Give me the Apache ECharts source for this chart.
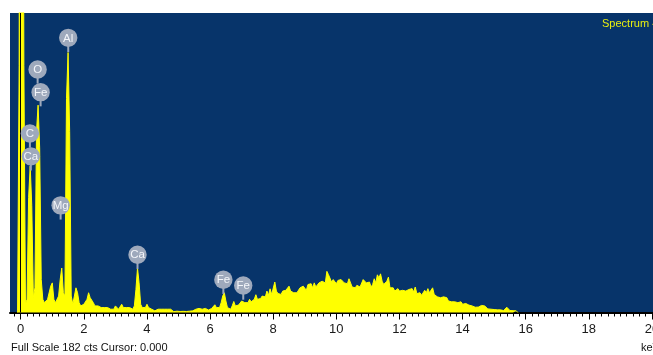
<!DOCTYPE html>
<html>
<head>
<meta charset="utf-8">
<script src="https://cdn.jsdelivr.net/npm/echarts@6/dist/echarts.min.js"></script>
<style>
html,body{margin:0;padding:0;background:#fff;}
#chart{width:653px;height:355px;}
</style>
</head>
<body>
<div id="chart"></div>
<script>
// EDS spectrum: counts per 0.05 keV channel, first channel at -0.10 keV
const energyStart = -0.10;
const channelWidth = 0.05;
const counts = [
  0, 150, 900, 900, 150, 5, 8, 70, 89, 65,            // -0.10 .. 0.35
  9, 15, 110, 126, 100, 20, 8, 6, 7, 8,               // 0.40 .. 0.85
  9, 16, 18, 8, 6, 7, 10, 20, 27, 12,                 // 0.90 .. 1.35
  10, 130, 158, 110, 10, 5, 6, 15, 12, 6,             // 1.40 .. 1.85
  4, 4, 5, 4, 8, 12, 9, 8, 6, 4,                      // 1.90 .. 2.35
  3, 4, 3, 3, 2, 3, 4, 3, 4, 2,                       // 2.40 .. 2.85
  3, 2, 4, 3, 2, 3, 5, 3, 2, 3,                       // 2.90 .. 3.35
  2, 3, 3, 2, 4, 14, 27, 18, 5, 3,                    // 3.40 .. 3.85
  2, 3, 5, 3, 4, 2, 2, 1, 2, 2,                       // 3.90 .. 4.35
  1, 2, 3, 2, 1, 2, 1, 2, 1, 0.5,                     // 4.40 .. 4.85
  0.5, 0.8, 0.4, 0.6, 0.5, 0.7, 0.4, 0.6, 0.5, 0.8,   // 4.90 .. 5.35
  0.6, 1, 1.5, 2, 1.5, 2.5, 1.5, 2, 1.5, 2.5,         // 5.40 .. 5.85
  2, 1.5, 2, 2.5, 2, 4.7, 3, 2.5, 3, 6,               // 5.90 .. 6.35
  10, 12, 7, 3, 2.5, 2, 4, 6.7, 4, 5,                 // 6.40 .. 6.85
  4.5, 5, 7, 8, 6, 7, 6, 8, 6.5, 7.5,                 // 6.90 .. 7.35
  8, 10.8, 8, 9, 8.5, 10, 11, 9.5, 13, 10.5,          // 7.40 .. 7.85
  14.4, 11, 12, 18.5, 13, 11.5, 12, 11, 13, 12,       // 7.90 .. 8.35
  13.5, 14, 16, 13, 14, 12, 13, 12, 12.5, 15,         // 8.40 .. 8.85
  14, 16, 15, 13.5, 17, 16, 17.5, 15, 18, 15.5,       // 8.90 .. 9.35
  16, 18, 17, 19, 20, 18, 25, 23, 22.5, 18.5,         // 9.40 .. 9.85
  20, 19, 17.5, 19.5, 20.5, 20, 19, 18, 18.5, 17.5,   // 9.90 .. 10.35
  20.5, 20, 15.5, 16, 15, 16.5, 17, 15.5, 16.5, 20,   // 10.40 .. 10.85
  19.5, 18, 17, 18.5, 15.5, 17, 20.5, 18, 22.9, 21,   // 10.90 .. 11.35
  23.5, 19, 17, 16, 19, 21.5, 15, 14, 15, 13,         // 11.40 .. 11.85
  12.5, 14.5, 13, 12, 13.5, 12.5, 13, 12, 14, 13,     // 11.90 .. 12.35
  14.5, 12.5, 15.5, 11.5, 11, 12, 10.5, 11, 13.5, 12, // 12.40 .. 12.85
  14.5, 12, 13, 15, 11, 10, 9.5, 10.5, 9, 10,         // 12.90 .. 13.35
  9.5, 8.5, 9, 7, 6, 6.5, 5.5, 6.5, 7.5, 6,           // 13.40 .. 13.85
  5.5, 6.5, 5, 4.5, 5.5, 6.3, 4.5, 5, 4, 3.5,         // 13.90 .. 14.35
  3.2, 3.8, 3.3, 3.5, 4.3, 3.2, 4, 2.8, 2.2, 2.5,     // 14.40 .. 14.85
  2, 2.3, 1.8, 1.5, 1.6, 1.3, 1.6, 1.4, 1.2, 1.5,     // 14.90 .. 15.35
  3.2, 2.5, 1.2, 1.3, 1.1, 1.2, 1, 0                  // 15.40 .. 15.75
];

const axisMin = -0.34;
const axisMax = 20.4;
const fullScale = 182;
const tickLabels = [0, 2, 4, 6, 8, 10, 12, 14, 16, 18, 20];
const minorTickStep = 0.2;
const cursorEnergy = 0;

// identified lines: tag text and where the tag sits (keV, counts)
const peakNames   = ['Al', 'O', 'Fe', 'C', 'Ca', 'Mg', 'Ca', 'Fe', 'Fe'];
const peakEnergy  = [1.505, 0.535, 0.63, 0.29, 0.32, 1.264, 3.70, 6.42, 7.05];
const peakTagAt   = [166.9, 147.7, 133.9, 108.8, 94.9, 65.1, 35.1, 19.9, 16.4];

const spectrumName = 'Spectrum 4';
const footer = 'Full Scale 182 cts Cursor: 0.000';
const unitName = 'keV';

const font = '"Liberation Sans", Arial, sans-serif';
const navy = '#07346a';
const tagColor = '#9ea9bc';

const spectrum = counts.map((c, i) => [energyStart + i * channelWidth, c]);
const minorTicks = [];
for (let k = -1; k <= 101; k++) minorTicks.push(Math.round(k * minorTickStep * 10) / 10);

const chart = echarts.init(document.getElementById('chart'), null, {renderer: 'canvas'});
chart.setOption({
  animation: false,
  backgroundColor: '#ffffff',
  grid: {
    left: 10, top: 13, width: 654.6, height: 299.5,
    show: true, backgroundColor: navy, borderWidth: 0,
    outerBoundsMode: 'none', containLabel: false
  },
  xAxis: [{
    type: 'value', min: axisMin, max: axisMax, position: 'bottom',
    axisLine: {show: true, onZero: false, lineStyle: {color: '#000', width: 2}},
    axisTick: {show: true, customValues: tickLabels, length: 7, lineStyle: {color: '#000', width: 1}},
    axisLabel: {customValues: tickLabels, margin: 10, fontSize: 13, color: '#1a1a1a', fontFamily: font},
    splitLine: {show: false}
  }, {
    type: 'value', min: axisMin, max: axisMax, position: 'bottom', offset: 0,
    axisLine: {show: false},
    axisTick: {show: true, customValues: minorTicks, length: 4, lineStyle: {color: '#000', width: 1}},
    axisLabel: {show: false},
    splitLine: {show: false}
  }],
  yAxis: {type: 'value', min: 0, max: fullScale, show: false},
  series: [{
    type: 'line',
    data: spectrum,
    xAxisIndex: 0,
    symbol: 'none',
    clip: true,
    lineStyle: {color: '#ffff00', width: 1},
    areaStyle: {color: '#ffff00', opacity: 1},
    markLine: {
      silent: true,
      symbol: ['none', 'none'],
      label: {show: false},
      lineStyle: {color: '#000', width: 1, type: 'solid'},
      data: [{xAxis: cursorEnergy}]
    },
    z: 2
  }, {
    type: 'custom',
    xAxisIndex: 0,
    data: peakEnergy.map((e, i) => [e, peakTagAt[i]]),
    z: 5,
    renderItem: function (params, api) {
      const p = api.coord([api.value(0), api.value(1)]);
      const r = 9.2;
      return {
        type: 'group',
        children: [
          {type: 'line', shape: {x1: p[0], y1: p[1] + r - 1, x2: p[0], y2: p[1] + r + 5},
           style: {stroke: tagColor, lineWidth: 2}},
          {type: 'circle', shape: {cx: p[0], cy: p[1], r: r}, style: {fill: tagColor}},
          {type: 'text', x: p[0], y: p[1] + 0.5,
           style: {text: peakNames[params.dataIndex], fill: '#f4f6fa',
                   font: '11.5px ' + font, align: 'center', verticalAlign: 'middle'}}
        ]
      };
    }
  }],
  graphic: [
    {type: 'text', left: 602, top: 18, style: {text: spectrumName, fill: '#e8ee10', font: '11px ' + font}},
    {type: 'text', left: 11, top: 342, style: {text: footer, fill: '#111', font: '11px ' + font}},
    {type: 'text', left: 641, top: 342, style: {text: unitName, fill: '#111', font: '11px ' + font}}
  ]
});
</script>
</body>
</html>
